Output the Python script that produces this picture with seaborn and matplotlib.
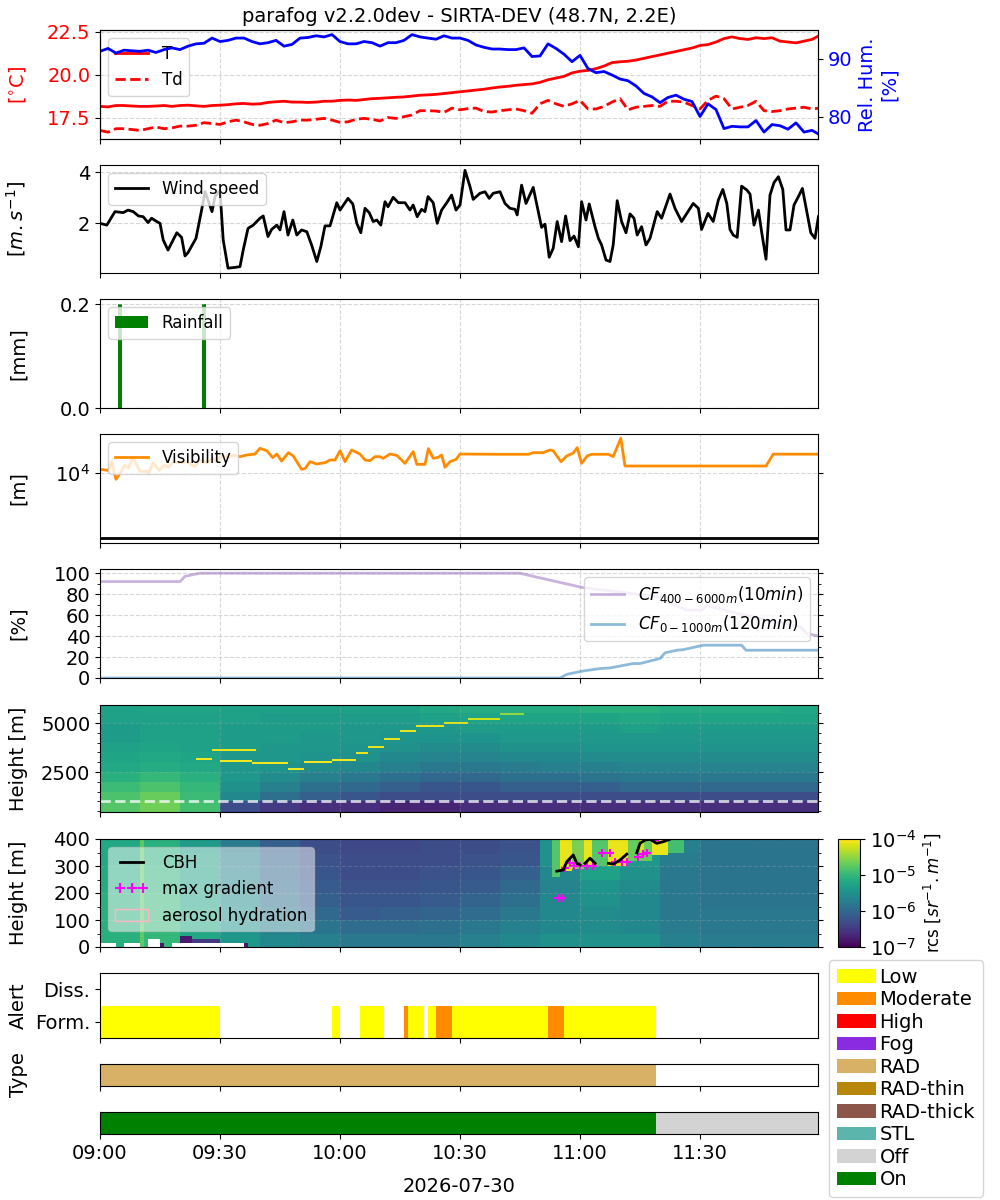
import numpy as np
import matplotlib
matplotlib.use("Agg")
import matplotlib.pyplot as plt
from matplotlib.colors import LogNorm
from matplotlib.lines import Line2D
from matplotlib.patches import Patch
from matplotlib.ticker import MultipleLocator, NullLocator
import seaborn as sns

plt.rcParams['font.family'] = ['DejaVu Sans']
plt.rcParams['font.size'] = 14

# ============================================================
# DATA (minutes after 09:00, 2026-07-30)
# ============================================================
met_min = np.arange(0, 181, 2)

temp_c = [18.15, 18.12, 18.2, 18.2, 18.17, 18.15, 18.15, 18.17, 18.2, 18.15,
          18.2, 18.22, 18.18, 18.15, 18.2, 18.22, 18.25, 18.3, 18.32, 18.28,
          18.3, 18.38, 18.42, 18.45, 18.4, 18.4, 18.38, 18.4, 18.45, 18.45,
          18.5, 18.52, 18.5, 18.55, 18.6, 18.62, 18.65, 18.68, 18.7, 18.75,
          18.8, 18.82, 18.85, 18.9, 18.95, 19.0, 19.05, 19.1, 19.15, 19.22,
          19.28, 19.32, 19.38, 19.42, 19.46, 19.55, 19.7, 19.8, 19.9, 20.1,
          20.2, 20.25, 20.35, 20.5, 20.7, 20.75, 20.78, 20.85, 20.95, 21.05,
          21.15, 21.25, 21.35, 21.45, 21.55, 21.7, 21.75, 21.9, 22.1, 22.2,
          22.1, 22.05, 22.15, 22.1, 22.15, 21.95, 21.9, 21.85, 21.95, 22.05, 22.3]

dew_c = [16.75, 16.65, 16.85, 16.85, 16.8, 16.75, 16.85, 16.95, 16.85, 16.9,
         17.0, 17.0, 17.05, 17.2, 17.15, 17.1, 17.25, 17.35, 17.25, 17.1,
         17.05, 17.15, 17.35, 17.2, 17.25, 17.35, 17.35, 17.4, 17.45, 17.35,
         17.22, 17.25, 17.4, 17.45, 17.4, 17.3, 17.5, 17.45, 17.55, 17.65,
         17.9, 17.9, 17.88, 17.8, 18.05, 17.95, 18.02, 18.05, 17.85, 17.82,
         17.9, 17.95, 18.0, 17.9, 17.75, 18.3, 18.5, 18.3, 18.15, 18.3,
         18.5, 18.0, 18.0, 18.15, 18.4, 18.6, 17.95, 18.1, 18.15, 18.2,
         18.15, 18.45, 18.45, 18.4, 18.2, 18.0, 18.5, 18.75, 18.6, 18.0,
         18.1, 18.2, 18.45, 17.9, 17.85, 17.9, 18.0, 18.05, 18.1, 18.0, 18.05]

rel_hum = [91.3, 91.8, 91.0, 91.5, 91.4, 91.3, 91.5, 91.1, 91.6, 91.9,
           91.6, 92.2, 92.6, 92.7, 93.6, 93.0, 93.2, 93.6, 93.6, 93.0,
           92.6, 92.8, 93.2, 92.2, 92.5, 93.6, 93.7, 94.0, 93.8, 94.2,
           93.0, 92.6, 92.6, 93.0, 92.8, 92.2, 92.8, 92.8, 93.2, 94.2,
           93.8, 93.6, 93.4, 94.0, 93.6, 93.6, 93.2, 92.4, 92.0, 91.7,
           91.7, 91.6, 91.6, 91.9, 90.4, 90.5, 92.6, 91.8, 90.8, 89.5,
           90.6, 88.3, 87.6, 87.8, 87.2, 86.5, 86.2, 85.3, 84.0, 83.4,
           82.4, 83.3, 83.7, 83.0, 82.6, 80.0, 82.2, 81.2, 77.9, 78.3,
           78.2, 78.2, 79.3, 77.3, 78.6, 78.4, 77.8, 78.9, 77.3, 77.6, 76.8]

wind_obs = [(0, 2.0), (1.7, 1.93), (3.75, 2.46), (5.8, 2.42), (7, 2.52), (8.3, 2.46),
            (9.6, 2.29), (10.8, 2.26), (12, 2.03), (12.9, 2.2), (14.2, 2.07), (15, 2.0),
            (15.8, 1.35), (17, 0.95), (19.2, 1.63), (20.4, 1.45), (21.25, 0.72), (22, 0.85),
            (24, 1.41), (25.4, 2.52), (26.25, 3.25), (28, 2.46), (28.75, 3.05), (30, 3.3),
            (30.8, 1.35), (32, 0.24), (33.75, 0.27), (35, 0.3), (35.8, 0.95), (37, 1.8),
            (38.3, 1.93), (40, 2.2), (40.8, 2.29), (42, 1.48), (42.9, 1.76), (44.2, 1.93),
            (45, 1.74), (46, 2.46), (47, 1.54), (48.2, 2.13), (49.2, 1.54), (50.4, 1.74),
            (51.7, 1.67), (52.9, 1.15), (54.2, 0.5), (55.2, 1.08), (56.25, 1.9), (57.5, 1.9),
            (59.2, 2.81), (60, 2.52), (62, 2.98), (63.2, 2.76), (64.2, 2.0), (65.2, 1.63),
            (66.25, 2.59), (67.3, 2.42), (68.3, 2.07), (69.2, 2.13), (70.2, 1.93), (71.25, 2.85),
            (72, 2.65), (73.3, 3.02), (74.6, 2.81), (76.25, 2.81), (77.5, 2.52), (78.3, 2.72),
            (79.3, 2.26), (80.4, 2.55), (81.25, 2.46), (82, 3.05), (83.3, 2.81), (84.3, 2.0),
            (85.4, 2.52), (86.7, 2.81), (87.9, 3.11), (89, 2.52), (90, 2.72), (91.25, 4.08),
            (92.5, 3.44), (93.3, 2.94), (95, 3.18), (96.25, 3.24), (97.3, 2.98), (98.3, 3.18),
            (100, 3.24), (101.25, 2.78), (102.5, 2.59), (103.75, 2.55), (104.3, 2.33), (105.4, 3.5),
            (106.5, 2.78), (108.3, 3.41), (110.4, 1.84), (111.25, 1.97), (112.3, 0.67), (113.3, 1.02),
            (114.3, 2.07), (115.4, 1.28), (116.4, 2.29), (117.5, 1.32), (118.5, 1.5), (119.6, 1.08),
            (120.4, 2.85), (121.5, 2.13), (122.3, 2.76), (123.75, 1.87), (124.6, 1.41), (125.4, 1.15),
            (126.5, 0.56), (127.5, 0.5), (128.3, 1.15), (129.3, 2.89), (130.4, 2.07), (131.5, 1.63),
            (132.5, 2.37), (133.5, 2.2), (134.3, 1.54), (135.4, 1.87), (136.5, 1.15), (137.5, 1.41),
            (139.3, 2.46), (140.4, 2.2), (142.5, 3.15), (143.75, 2.59), (145.4, 2.07), (146.7, 2.39),
            (148.3, 2.78), (149.6, 2.59), (150.4, 1.76), (152, 2.39), (153.3, 2.07), (154.6, 2.92),
            (155.7, 3.33), (156.7, 2.78), (157.5, 1.76), (158.3, 1.54), (159.3, 1.45), (160.4, 3.46),
            (161.7, 3.31), (162.5, 3.15), (163.5, 1.93), (164.6, 2.52), (165.4, 1.67), (166.5, 0.59),
            (167.5, 3.11), (168.5, 3.6), (169.6, 3.83), (170.7, 3.33), (171.5, 1.74), (172.5, 1.74),
            (173.5, 2.72), (174.6, 3.05), (175.6, 3.37), (176.7, 2.46), (177.7, 1.63), (178.75, 1.41),
            (179.6, 2.26)]

rain_min = [5, 26]
rain_mm = [0.2, 0.2]

vis_obs = [(0, 10620), (2.1, 10440), (2.9, 11800), (4, 9070), (5, 10000), (6.25, 11290),
           (7.1, 10830), (8.2, 12480), (9.2, 11290), (10, 10310), (11.7, 10310), (12.1, 10000),
           (13.3, 11650), (14.8, 10440), (16, 11290), (17.1, 10930), (18.3, 11800), (20, 11650),
           (21.7, 11800), (23.75, 11030), (25, 12060), (26.7, 11650), (28.3, 12320), (29.2, 11800),
           (30.4, 12730), (32.1, 12480), (33.3, 12840), (35, 12580), (36.7, 12840), (38.75, 12990),
           (40, 13880), (41.7, 13500), (43.2, 12430), (44.2, 12990), (45.4, 11900), (47.1, 13200),
           (48.3, 12700), (50.4, 10620), (51.25, 10720), (52.5, 11800), (54.2, 11440), (56.25, 11650),
           (57.5, 12060), (58.75, 12060), (60, 13500), (61.25, 11800), (62.9, 13620), (65, 12990),
           (66.25, 12060), (67.5, 11960), (68.75, 12580), (70, 12580), (70.8, 12320), (72.5, 12990),
           (74.2, 12780), (76.25, 11540), (78.3, 13360), (79.2, 11390), (81.25, 11390), (82.1, 13830),
           (83.3, 12330), (84.6, 12480), (85.4, 12840), (86.25, 10930), (87.5, 11800), (89, 12160),
           (90, 12990), (100, 12950), (107.1, 12950), (108.3, 13200), (110.8, 13200), (112.5, 13620),
           (113.3, 13500), (115.25, 11800), (116.7, 12700), (118.3, 13130), (119.3, 13980),
           (120.4, 11550), (121.8, 12700), (122.9, 12950), (127.1, 12950), (128.3, 12600),
           (130.2, 15440), (131.25, 11130), (166.5, 11130), (168.3, 12970), (179.6, 12970)]
vis_floor_m = 0

cf_high_obs = [(0, 92), (20, 92), (21.25, 97), (25, 100), (105, 100), (106.7, 98.4), (120.8, 86.2),
               (140.8, 77), (141.7, 72.8), (146.7, 64.8), (150.4, 64.8), (151.7, 69), (158.3, 62.6),
               (166.7, 55.3), (175, 48.9), (176.7, 42.5), (179.6, 40)]
cf_low_obs = [(0, 0), (115, 0), (116.7, 3.5), (120.8, 6.7), (125, 9), (127.5, 9.6), (133.3, 13.8),
              (135, 13.8), (140, 18.6), (141.25, 24), (144.2, 26.5), (145.8, 27), (150.8, 31.3),
              (160.4, 31.3), (161.5, 26.5), (179.6, 26.5)]

# lidar: log10(rcs) read per 10-min block and height band (rows bottom -> top)
lidar_block_min = [0, 10, 20, 30, 40, 50, 60, 70, 80, 90, 100, 110, 120, 130, 140, 150, 160, 170, 180]
up_band_m = [400, 1000, 1500, 2000, 2500, 3000, 3500, 4000, 4500, 5000, 5500, 5950]
up_log_rcs = [
    [-4.8, -4.65, -4.9, -6.3, -6.5, -6.6, -6.6, -6.7, -6.7, -6.6, -6.6, -6.6, -6.6, -6.6, -6.6, -6.6, -6.6, -6.6],
    [-4.85, -4.7, -4.95, -5.6, -5.9, -6.1, -6.2, -6.3, -6.3, -6.3, -6.3, -6.3, -6.3, -6.3, -6.3, -6.3, -6.3, -6.3],
    [-4.95, -4.85, -5.0, -5.5, -5.7, -5.9, -6.0, -6.1, -6.2, -6.2, -6.1, -6.1, -6.1, -6.0, -6.0, -6.0, -6.0, -6.0],
    [-5.1, -5.0, -5.1, -5.4, -5.55, -5.7, -5.8, -5.9, -6.0, -6.0, -5.9, -5.9, -5.85, -5.8, -5.8, -5.8, -5.8, -5.8],
    [-5.2, -5.15, -5.2, -5.4, -5.45, -5.55, -5.6, -5.7, -5.8, -5.8, -5.75, -5.7, -5.7, -5.65, -5.65, -5.65, -5.65, -5.65],
    [-5.25, -5.2, -5.25, -5.4, -5.4, -5.45, -5.5, -5.6, -5.65, -5.65, -5.6, -5.6, -5.55, -5.55, -5.55, -5.55, -5.55, -5.55],
    [-5.3, -5.25, -5.3, -5.35, -5.4, -5.4, -5.45, -5.5, -5.55, -5.55, -5.5, -5.5, -5.45, -5.45, -5.45, -5.45, -5.45, -5.45],
    [-5.35, -5.3, -5.3, -5.35, -5.35, -5.4, -5.4, -5.45, -5.45, -5.45, -5.4, -5.4, -5.4, -5.4, -5.4, -5.4, -5.4, -5.4],
    [-5.35, -5.3, -5.3, -5.35, -5.35, -5.35, -5.4, -5.4, -5.4, -5.35, -5.35, -5.35, -5.35, -5.3, -5.35, -5.35, -5.35, -5.35],
    [-5.3, -5.3, -5.3, -5.3, -5.35, -5.35, -5.35, -5.35, -5.3, -5.25, -5.25, -5.25, -5.25, -5.2, -5.25, -5.25, -5.25, -5.25],
    [-5.3, -5.25, -5.25, -5.3, -5.3, -5.3, -5.3, -5.3, -5.2, -5.15, -5.15, -5.15, -5.1, -5.1, -5.15, -5.15, -5.15, -5.2],
]
# cloud layer in upper profile: start, end [min], height [m], log10(rcs)
up_cloud = [(24, 28, 3150, -4.05), (28, 39, 3600, -4.1), (30, 38, 3050, -4.05), (38, 47, 2950, -4.05),
            (47, 51, 2650, -4.05), (51, 58, 3000, -4.05), (58, 64, 3100, -4.05), (64, 67, 3450, -4.1),
            (67, 71, 3800, -4.1), (71, 75, 4200, -4.1), (75, 79, 4600, -4.1), (79, 86, 4850, -4.1),
            (86, 92, 5000, -4.15), (92, 100, 5200, -4.2), (100, 106, 5450, -4.5)]

low_band_m = [0, 50, 100, 150, 200, 250, 300, 350, 395]
low_log_rcs = [
    [-5.1, -5.0, -5.2, -5.4, -5.6, -5.7, -5.8, -5.8, -5.8, -5.7, -5.6, -5.5, -5.5, -5.5, -5.7, -5.75, -5.75, -5.75],
    [-5.1, -5.0, -5.2, -5.45, -5.7, -5.85, -5.95, -5.95, -5.9, -5.8, -5.7, -5.6, -5.55, -5.6, -5.75, -5.8, -5.8, -5.8],
    [-5.1, -5.0, -5.2, -5.5, -5.8, -6.0, -6.15, -6.1, -6.05, -5.95, -5.8, -5.6, -5.55, -5.6, -5.8, -5.8, -5.8, -5.8],
    [-5.1, -5.0, -5.25, -5.55, -5.9, -6.1, -6.2, -6.2, -6.15, -6.05, -5.9, -5.6, -5.5, -5.6, -5.8, -5.85, -5.85, -5.85],
    [-5.15, -5.05, -5.25, -5.6, -5.95, -6.15, -6.25, -6.25, -6.2, -6.15, -6.0, -5.65, -5.45, -5.55, -5.8, -5.85, -5.85, -5.85],
    [-5.15, -5.05, -5.3, -5.65, -6.0, -6.2, -6.3, -6.3, -6.25, -6.2, -6.1, -5.6, -5.3, -5.5, -5.8, -5.85, -5.85, -5.85],
    [-5.2, -5.1, -5.3, -5.7, -6.05, -6.25, -6.3, -6.3, -6.3, -6.25, -6.2, -5.5, -5.2, -5.4, -5.75, -5.85, -5.85, -5.85],
    [-5.2, -5.1, -5.35, -5.75, -6.1, -6.3, -6.35, -6.35, -6.3, -6.3, -6.25, -5.5, -5.1, -5.3, -5.7, -5.85, -5.85, -5.85],
]
# local features in lower profile: start, end [min], bottom, top [m], log10(rcs) (nan = no signal)
low_features = [(10, 11, 0, 395, -4.75),
                (113, 115, 260, 395, -4.8), (115, 118, 280, 395, -4.1), (118, 121, 290, 395, -4.6),
                (121, 123, 300, 395, -4.1), (123, 127, 300, 395, -4.8), (127, 132, 300, 395, -4.1),
                (132, 138, 320, 395, -4.7), (135, 136, 340, 395, -4.2), (138, 142, 340, 395, -4.1),
                (142, 146, 350, 395, -4.9),
                (0, 4, 0, 15, np.nan), (6, 10, 0, 15, np.nan), (12, 15, 0, 30, np.nan),
                (15, 16, 0, 15, -6.8), (18, 30, 0, 15, np.nan), (20, 23, 15, 40, -6.8),
                (23, 30, 15, 30, -6.5), (30, 37, 0, 15, np.nan), (36, 37, 0, 15, -6.8)]

cbh_obs = [(114.2, 281), (115.8, 285), (116.7, 316), (118.3, 341), (119.2, 310), (120, 304),
           (120.6, np.nan), (121.25, 310), (122.5, 329), (123.75, 310), (125, np.nan),
           (127.1, 310), (128.3, 307), (130, 322), (131.7, 344), (133, np.nan),
           (134.2, 349), (135, 384), (136.25, 396), (137.5, 399), (139.2, 384), (140.8, 390),
           (142.5, 399), (143.75, 411)]
grad_obs = [(114.6, 182), (115.4, 182), (116.25, 291), (117.5, 310), (118.5, 300), (120, 300),
            (121.7, 300), (123.3, 300), (125.4, 349), (127.5, 349), (128.75, 316), (130.4, 316),
            (131.7, 316), (134.6, 334), (135.8, 344), (136.7, 349), (138.75, 396)]

alert_start = [0, 58, 65, 76, 77, 82, 84, 88, 112, 116]
alert_end = [30, 60, 71, 77, 81, 84, 88, 112, 116, 139]
alert_level = ['Low', 'Low', 'Low', 'Moderate', 'Low', 'Low', 'Moderate', 'Low', 'Moderate', 'Low']
type_start, type_end, type_name = [0], [139], ['RAD']
state_start, state_end, state_name = [0, 139], [139, 180], ['On', 'Off']

cat_names = ['Low', 'Moderate', 'High', 'Fog', 'RAD', 'RAD-thin', 'RAD-thick', 'STL', 'Off', 'On']
cat_colors = ['yellow', 'darkorange', 'red', 'blueviolet', '#d8b166', 'darkgoldenrod',
              '#8c564b', '#5bb5ad', 'lightgray', 'green']

xtick_min = [0, 30, 60, 90, 120, 150]
xtick_labels = ['09:00', '09:30', '10:00', '10:30', '11:00', '11:30']

# ============================================================
# FIGURE
# ============================================================
fig = plt.figure(figsize=(10, 12), dpi=100)
YLAB_X = -0.10


def px_axes(top, bottom, left=100, right=818):
    return fig.add_axes([left / 1000, 1 - bottom / 1200, (right - left) / 1000, (bottom - top) / 1200])


def pairs(obs):
    a, b = zip(*obs)
    return np.array(a, float), np.array(b, float)


def finish(ax, label=None, grid_alpha=0.5, bottom=False):
    ax.set_xlim(0, 179.5)
    ax.set_xticks(xtick_min)
    if bottom:
        ax.set_xticklabels(xtick_labels)
    else:
        ax.tick_params(axis='x', labelbottom=False)
    if grid_alpha:
        ax.grid(True, ls='--', alpha=grid_alpha)
    if label is not None:
        ax.set_ylabel(label)
        ax.yaxis.set_label_coords(YLAB_X, 0.5)


# --- temperature / humidity
axT = px_axes(30, 139)
sns.lineplot(x=met_min, y=temp_c, ax=axT, color='red', lw=2, label='T')
sns.lineplot(x=met_min, y=dew_c, ax=axT, color='red', lw=2, linestyle='--', label='Td')
axT.set_ylim(16.25, 22.6)
axT.set_yticks([17.5, 20.0, 22.5])
axT.tick_params(axis='y', labelcolor='red')
finish(axT)
axT.set_ylabel('[$^{\\circ}$C]', color='red')
axT.yaxis.set_label_coords(YLAB_X, 0.5)
axT.legend(loc='upper left', fontsize=12)
axT.set_title('parafog v2.2.0dev - SIRTA-DEV (48.7N, 2.2E)', fontsize=14)
axRH = axT.twinx()
sns.lineplot(x=met_min, y=rel_hum, ax=axRH, color='blue', lw=2, legend=False)
axRH.set_ylim(76.1, 95.0)
axRH.set_yticks([80, 90])
axRH.tick_params(axis='y', labelcolor='blue')
axRH.set_ylabel('Rel. Hum.\n[%]', color='blue')

# --- wind
axW = px_axes(165, 273)
w_min, w_ms = pairs(wind_obs)
sns.lineplot(x=w_min, y=w_ms, ax=axW, color='black', lw=2, label='Wind speed')
axW.set_ylim(0.05, 4.29)
axW.set_yticks([2, 4])
finish(axW, r'[$m.s^{-1}$]')
axW.legend(loc='upper left', fontsize=12)

# --- rain
axR = px_axes(299, 408)
axR.bar(rain_min, rain_mm, width=1, color='green', label='Rainfall')
axR.set_ylim(0, 0.21)
axR.set_yticks([0.0, 0.2])
finish(axR, '[mm]')
axR.legend(loc='upper left', fontsize=12)

# --- visibility
axV = px_axes(434, 543)
v_min, v_m = pairs(vis_obs)
sns.lineplot(x=v_min, y=v_m, ax=axV, color='darkorange', lw=2, label='Visibility')
axV.axhline(vis_floor_m, color='black', lw=2)
axV.set_ylim(-823, 16100)
axV.set_yticks([10000], labels=['$10^{4}$'])
axV.tick_params(axis='y', right=True)
finish(axV, '[m]')
axV.legend(loc='upper left', fontsize=12)

# --- cloud fraction
axC = px_axes(569, 678)
c1_min, c1 = pairs(cf_high_obs)
c2_min, c2 = pairs(cf_low_obs)
sns.lineplot(x=c1_min, y=c1, ax=axC, color='tab:purple', alpha=0.5, lw=2,
             label=r'$CF_{400-6000m}(10min)$')
sns.lineplot(x=c2_min, y=c2, ax=axC, color='tab:blue', alpha=0.5, lw=2,
             label=r'$CF_{0-1000m}(120min)$')
axC.set_ylim(0, 104)
axC.set_yticks([0, 20, 40, 60, 80, 100])
axC.yaxis.set_minor_locator(MultipleLocator(10))
axC.tick_params(axis='y', which='both', right=True)
finish(axC, '[%]')
axC.legend(loc='upper right', fontsize=12)

# --- lidar
t_edges = np.arange(0, 181, 1)
tc = (t_edges[:-1] + t_edges[1:]) / 2


def build_rcs(h_edges, bands, bg_rows, features):
    hc = (h_edges[:-1] + h_edges[1:]) / 2
    ti = np.clip(np.searchsorted(lidar_block_min, tc, side='right') - 1, 0, len(lidar_block_min) - 2)
    hi = np.clip(np.searchsorted(bands, hc, side='right') - 1, 0, len(bands) - 2)
    grid = np.array(bg_rows, dtype=float)[hi][:, ti]
    for t0, t1, h0, h1, val in features:
        rows = (hc >= h0) & (hc < h1)
        cols = (tc >= t0) & (tc < t1)
        grid[np.ix_(rows, cols)] = val
    return 10.0 ** grid


norm = LogNorm(1e-7, 1e-4)
up_h_edges = np.arange(400, 5951, 50)
up_feats = [(t0, t1, h - 50, h + 50, v) for t0, t1, h, v in up_cloud]
up_rcs = build_rcs(up_h_edges, up_band_m, up_log_rcs, up_feats)

axL1 = px_axes(705, 812)
axL1.pcolormesh(t_edges, up_h_edges, up_rcs, cmap='viridis', norm=norm, shading='flat')
axL1.axhline(1000, color='white', ls='--', lw=2, alpha=0.75)
axL1.set_ylim(460, 5920)
axL1.set_yticks([2500, 5000])
axL1.yaxis.set_minor_locator(MultipleLocator(500))
axL1.tick_params(axis='y', which='both', right=True)
finish(axL1, 'Height [m]', grid_alpha=0.25)

low_h_edges = np.arange(0, 396, 5)
low_rcs = build_rcs(low_h_edges, low_band_m, low_log_rcs, low_features)

axL2 = px_axes(839, 947)
mesh = axL2.pcolormesh(t_edges, low_h_edges, low_rcs, cmap='viridis', norm=norm, shading='flat')
cb_min, cb_m = pairs(cbh_obs)
axL2.plot(cb_min, cb_m, color='black', lw=2)
g_min, g_m = pairs(grad_obs)
sns.scatterplot(x=g_min, y=g_m, ax=axL2, marker='+', s=40, color='magenta', linewidth=1.5, legend=False)
axL2.set_ylim(0, 400)
axL2.set_yticks([0, 100, 200, 300, 400])
axL2.yaxis.set_minor_locator(MultipleLocator(50))
axL2.tick_params(axis='y', which='both', right=True)
finish(axL2, 'Height [m]', grid_alpha=0.25)
lid_handles = [Line2D([], [], color='black', lw=2, label='CBH'),
               Line2D([], [], ls='none', marker='+', ms=7, mew=1.5, color='magenta', label='max gradient'),
               Patch(facecolor='none', edgecolor='lightpink', label='aerosol hydration')]
axL2.legend(handles=lid_handles, loc='upper left', fontsize=12, framealpha=0.5, numpoints=3)

cax = fig.add_axes([0.838, 1 - 947 / 1200, 0.022, 108 / 1200])
cb = fig.colorbar(mesh, cax=cax)
cb.set_ticks([1e-7, 1e-6, 1e-5, 1e-4])
cb.minorticks_off()
cb.ax.yaxis.set_minor_locator(NullLocator())
cb.ax.tick_params(which='minor', length=0)
cb.ax.tick_params(labelsize=14)
cb.set_label(r'rcs [$sr^{-1}.m^{-1}$]', fontsize=12)

# --- alerts, type, state
color_of = dict(zip(cat_names, cat_colors))

axA = px_axes(973, 1038)
for t0, t1, lvl in zip(alert_start, alert_end, alert_level):
    axA.barh(0, t1 - t0, left=t0, height=1, color=color_of[lvl])
axA.set_ylim(-0.5, 1.5)
axA.set_yticks([0, 1], labels=['Form.', 'Diss.'])
finish(axA, 'Alert', grid_alpha=0)

axTy = px_axes(1064, 1086)
for t0, t1, nm in zip(type_start, type_end, type_name):
    axTy.barh(0, t1 - t0, left=t0, height=1, color=color_of[nm])
axTy.set_ylim(-0.5, 0.5)
axTy.set_yticks([])
finish(axTy, 'Type', grid_alpha=0)

axS = px_axes(1112, 1134)
for t0, t1, nm in zip(state_start, state_end, state_name):
    axS.barh(0, t1 - t0, left=t0, height=1, color=color_of[nm])
axS.set_ylim(-0.5, 0.5)
axS.set_yticks([])
finish(axS, grid_alpha=0, bottom=True)
axS.set_xlabel('2026-07-30', labelpad=10)

cat_handles = [Patch(facecolor=c, label=n) for n, c in zip(cat_names, cat_colors)]
fig.legend(handles=cat_handles, loc='upper left', bbox_to_anchor=(0.829, 0.2),
           fontsize=14, handletextpad=0.2, labelspacing=0.18, borderaxespad=0)

fig.savefig('out.png', dpi=100, facecolor='white')
